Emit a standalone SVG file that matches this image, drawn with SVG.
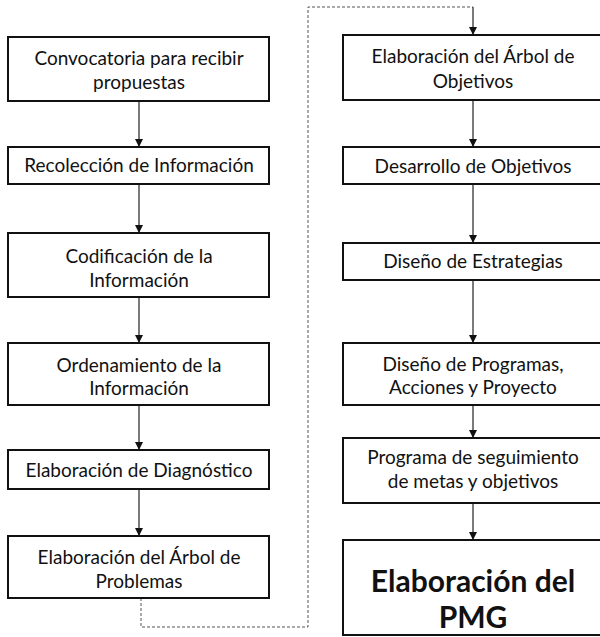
<svg xmlns="http://www.w3.org/2000/svg" width="600" height="637" viewBox="0 0 600 637">
<defs>
<marker id="ah" markerWidth="8" markerHeight="8" refX="7" refY="4" orient="auto" markerUnits="userSpaceOnUse">
<path d="M0,0 L8,4 L0,8 Z" fill="#111"/>
</marker>
<style>
.box{fill:#fff;stroke:#111;stroke-width:2}
.t{font-family:Lato,"Open Sans","Liberation Sans",sans-serif;font-size:19px;fill:#111;text-anchor:middle}
.big{font-family:Lato,"Open Sans","Liberation Sans",sans-serif;font-size:30px;font-weight:bold;fill:#111;text-anchor:middle}
.c{fill:none;stroke:#222;stroke-width:1.2}
.loop{fill:none;stroke:#555;stroke-width:1;stroke-dasharray:3 2}
</style>
</defs>
<rect width="600" height="637" fill="#fff"/>
<g id="connectors">
<line class="c" x1="139" y1="101" x2="139" y2="146" marker-end="url(#ah)"/>
<line class="c" x1="139" y1="184" x2="139" y2="232" marker-end="url(#ah)"/>
<line class="c" x1="139" y1="297" x2="139" y2="342" marker-end="url(#ah)"/>
<line class="c" x1="139" y1="405" x2="139" y2="449" marker-end="url(#ah)"/>
<line class="c" x1="139" y1="489" x2="139" y2="535" marker-end="url(#ah)"/>
<polyline class="loop" points="141,598 141,627 308,627 308,7 473,7"/>
<line class="c" x1="473" y1="7" x2="473" y2="34" marker-end="url(#ah)"/>
<line class="c" x1="473" y1="100" x2="473" y2="146" marker-end="url(#ah)"/>
<line class="c" x1="473" y1="184" x2="473" y2="242" marker-end="url(#ah)"/>
<line class="c" x1="473" y1="280" x2="473" y2="342" marker-end="url(#ah)"/>
<line class="c" x1="473" y1="405" x2="473" y2="437" marker-end="url(#ah)"/>
<line class="c" x1="473" y1="503" x2="473" y2="539" marker-end="url(#ah)"/>
</g>
<g id="n1"><rect class="box" x="8" y="37" width="261" height="64"/><text class="t" x="139" y="65">Convocatoria para recibir</text><text class="t" x="139" y="89">propuestas</text></g>
<g id="n2"><rect class="box" x="8" y="147" width="261" height="37"/><text class="t" x="139" y="172">Recolección de Información</text></g>
<g id="n3"><rect class="box" x="8" y="233" width="261" height="64"/><text class="t" x="139" y="263">Codificación de la</text><text class="t" x="139" y="287">Información</text></g>
<g id="n4"><rect class="box" x="8" y="343" width="261" height="62"/><text class="t" x="139" y="372">Ordenamiento de la</text><text class="t" x="139" y="395">Información</text></g>
<g id="n5"><rect class="box" x="8" y="450" width="261" height="39"/><text class="t" x="139" y="477">Elaboración de Diagnóstico</text></g>
<g id="n6"><rect class="box" x="8" y="536" width="261" height="62"/><text class="t" x="139" y="564">Elaboración del Árbol de</text><text class="t" x="139" y="588">Problemas</text></g>
<g id="n7"><rect class="box" x="343" y="35" width="262" height="65"/><text class="t" x="473" y="63">Elaboración del Árbol de</text><text class="t" x="473" y="88">Objetivos</text></g>
<g id="n8"><rect class="box" x="343" y="147" width="262" height="37"/><text class="t" x="473" y="173">Desarrollo de Objetivos</text></g>
<g id="n9"><rect class="box" x="343" y="243" width="262" height="37"/><text class="t" x="473" y="268">Diseño de Estrategias</text></g>
<g id="n10"><rect class="box" x="343" y="343" width="262" height="62"/><text class="t" x="473" y="371">Diseño de Programas,</text><text class="t" x="473" y="394">Acciones y Proyecto</text></g>
<g id="n11"><rect class="box" x="343" y="438" width="262" height="65"/><text class="t" x="473" y="464">Programa de seguimiento</text><text class="t" x="473" y="488">de metas y objetivos</text></g>
<g id="n12"><rect class="box" x="343" y="540" width="262" height="95"/><text class="big" x="473" y="592">Elaboración del</text><text class="big" x="473" y="628">PMG</text></g>
</svg>
